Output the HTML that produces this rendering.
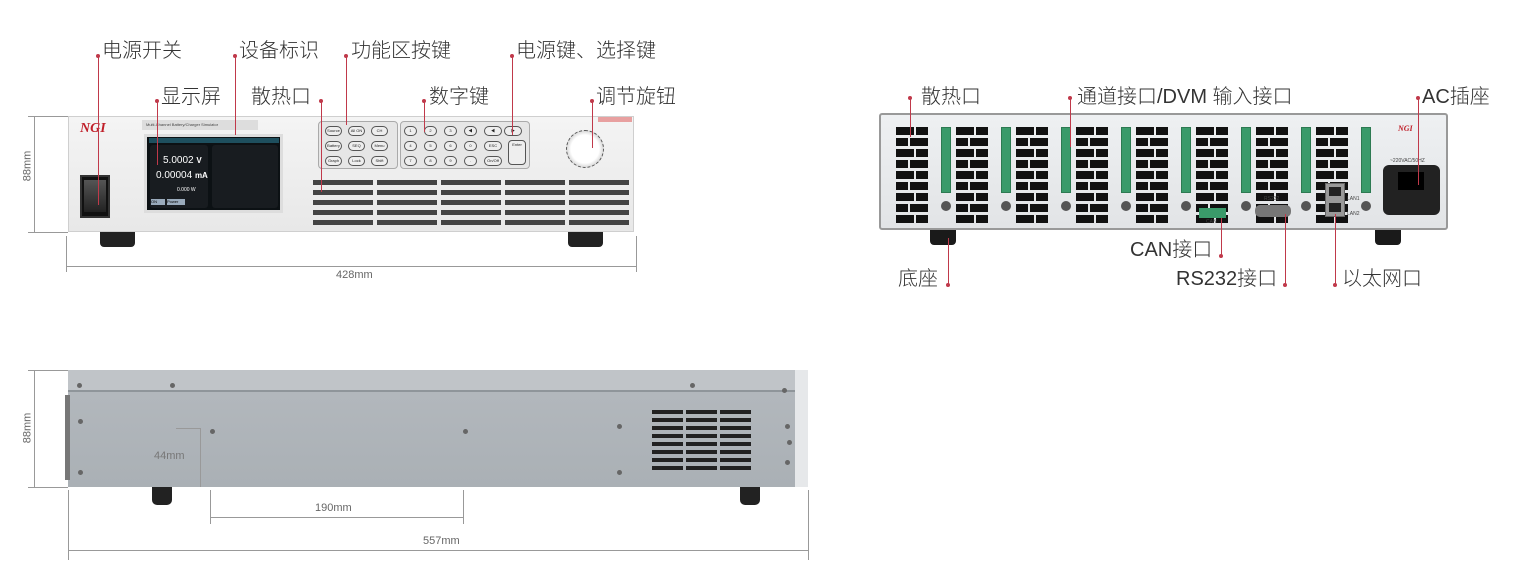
<!DOCTYPE html>
<html><head><meta charset="utf-8">
<style>
*{margin:0;padding:0;box-sizing:border-box}
body{width:1514px;height:581px;background:#fff;position:relative;overflow:hidden;font-family:"Liberation Sans","Noto Sans CJK SC",sans-serif}
.a{position:absolute}
.lbl{position:absolute;font-size:20px;color:#333;line-height:22px;white-space:nowrap;font-weight:300}
.rl{position:absolute;width:1px;background:#c0394a}
.dot{position:absolute;width:4px;height:4px;border-radius:2px;background:#c0394a}
.dim{position:absolute;background:#999}
.dt{position:absolute;font-size:11px;color:#666}
.vent{position:absolute;background:#444;height:5px}
.blk{position:absolute;background:#111}
.grn{position:absolute;background:#3a9a6a;border:1px solid #2d7a52}
.key{position:absolute;width:17px;height:10px;border:1px solid #555;border-radius:5px;background:#eee;font-size:4px;text-align:center;line-height:8px;color:#222}
.scr{position:absolute;background:#aab0b4;border-radius:50%;width:5px;height:5px}
</style></head><body>

<!-- FRONT VIEW -->
<div class="a" style="left:68px;top:116px;width:566px;height:116px;background:linear-gradient(#f4f4f4,#e8e8e8);border:1px solid #cfcfcf"></div>
<div class="a" style="left:100px;top:232px;width:35px;height:15px;background:#222;border-radius:0 0 4px 4px"></div>
<div class="a" style="left:568px;top:232px;width:35px;height:15px;background:#222;border-radius:0 0 4px 4px"></div>
<div class="a" style="left:80px;top:121px;font:italic bold 14px 'Liberation Serif';color:#c0202a">NGI</div>
<div class="a" style="left:80px;top:175px;width:30px;height:43px;background:#111;border:2px solid #333"></div>
<div class="a" style="left:84px;top:180px;width:22px;height:32px;background:linear-gradient(#555,#222)"></div>
<div class="a" style="left:142px;top:120px;width:116px;height:10px;background:#ddd;font-size:4px;color:#444;line-height:10px;padding-left:4px">Multi-Channel Battery/Charger Simulator</div>
<div class="a" style="left:144px;top:134px;width:139px;height:79px;background:#0c1114;border:3px solid #ddd"></div>
<div class="a" style="left:149px;top:138px;width:130px;height:5px;background:#1e4f5e"></div>
<div class="a" style="left:150px;top:145px;width:58px;height:63px;background:#181c20;border-radius:3px"></div>
<div class="a" style="left:212px;top:145px;width:66px;height:63px;background:#181c20;border-radius:3px"></div>
<div class="a" style="left:163px;top:155px;font-size:10px;color:#fff">5.0002 <b style="font-size:8px">V</b></div>
<div class="a" style="left:156px;top:170px;font-size:10px;color:#fff">0.00004 <b style="font-size:8px">mA</b></div>
<div class="a" style="left:177px;top:187px;font-size:5px;color:#fff">0.000 W</div>
<div class="a" style="left:151px;top:199px;width:14px;height:6px;background:#9ab;font-size:4px">ON</div>
<div class="a" style="left:167px;top:199px;width:18px;height:6px;background:#9ab;font-size:4px">Power</div>
<div class="a" style="left:318px;top:121px;width:80px;height:48px;border:1px solid #aaa;border-radius:4px;background:#e6e6e6"></div>
<div class="a" style="left:400px;top:121px;width:130px;height:48px;border:1px solid #aaa;border-radius:4px;background:#e6e6e6"></div>
<div class="a" style="left:566px;top:130px;width:38px;height:38px;border-radius:50%;background:radial-gradient(#fff 55%,#ddd 70%,#bbb);border:1px dashed #555"></div>
<div class="a" style="left:598px;top:117px;width:34px;height:5px;background:#e8a0a0"></div>
<div id="front"></div>

<!-- front dims -->
<div class="dim" style="left:34px;top:116px;width:1px;height:116px"></div>
<div class="dim" style="left:28px;top:116px;width:40px;height:1px"></div>
<div class="dim" style="left:28px;top:232px;width:40px;height:1px"></div>
<div class="dt" style="left:12px;top:160px;transform:rotate(-90deg);transform-origin:center">88mm</div>
<div class="dim" style="left:66px;top:266px;width:570px;height:1px"></div>
<div class="dim" style="left:66px;top:236px;width:1px;height:36px"></div>
<div class="dim" style="left:636px;top:236px;width:1px;height:36px"></div>
<div class="dt" style="left:336px;top:269px">428mm</div>

<!-- front labels -->
<div class="rl" style="left:98px;top:55px;height:150px"></div><div class="dot" style="left:96px;top:54px"></div><div class="lbl" style="left:102px;top:40px">电源开关</div>
<div class="rl" style="left:235px;top:55px;height:80px"></div><div class="dot" style="left:233px;top:54px"></div><div class="lbl" style="left:239px;top:40px">设备标识</div>
<div class="rl" style="left:346px;top:55px;height:70px"></div><div class="dot" style="left:344px;top:54px"></div><div class="lbl" style="left:351px;top:40px">功能区按键</div>
<div class="rl" style="left:512px;top:55px;height:80px"></div><div class="dot" style="left:510px;top:54px"></div><div class="lbl" style="left:516px;top:40px">电源键、选择键</div>
<div class="rl" style="left:157px;top:100px;height:65px"></div><div class="dot" style="left:155px;top:99px"></div><div class="lbl" style="left:161px;top:86px">显示屏</div>
<div class="rl" style="left:321px;top:100px;height:92px"></div><div class="dot" style="left:319px;top:99px"></div><div class="lbl" style="left:251px;top:86px">散热口</div>
<div class="rl" style="left:424px;top:100px;height:32px"></div><div class="dot" style="left:422px;top:99px"></div><div class="lbl" style="left:429px;top:86px">数字键</div>
<div class="rl" style="left:592px;top:100px;height:48px"></div><div class="dot" style="left:590px;top:99px"></div><div class="lbl" style="left:596px;top:86px">调节旋钮</div>

<!-- REAR VIEW -->
<div class="a" style="left:879px;top:113px;width:569px;height:117px;background:linear-gradient(#eef0f2,#e2e4e6);border:2px solid #999;border-radius:3px"></div>
<div class="a" style="left:930px;top:230px;width:26px;height:15px;background:#1a1a1a;border-radius:0 0 4px 4px"></div>
<div class="a" style="left:1375px;top:230px;width:26px;height:15px;background:#1a1a1a;border-radius:0 0 4px 4px"></div>
<div id="rear"></div>
<div class="a" style="left:1383px;top:165px;width:57px;height:50px;background:#222;border-radius:6px"></div>
<div class="a" style="left:1398px;top:172px;width:26px;height:18px;background:#000"></div>
<div class="a" style="left:1398px;top:124px;font:italic bold 8px 'Liberation Serif';color:#c0202a">NGI</div>
<div class="a" style="left:1390px;top:158px;font-size:5px;color:#444">~220VAC/50HZ</div>
<div class="a" style="left:1325px;top:183px;width:20px;height:34px;background:#999;border:1px solid #666"></div>
<div class="a" style="left:1329px;top:187px;width:12px;height:9px;background:#222"></div>
<div class="a" style="left:1329px;top:203px;width:12px;height:9px;background:#222"></div>
<div class="a" style="left:1347px;top:196px;font-size:5px;color:#444">LAN1</div>
<div class="a" style="left:1347px;top:211px;font-size:5px;color:#444">LAN2</div>
<div class="a" style="left:1255px;top:205px;width:36px;height:12px;background:#777;border-radius:5px"></div>
<div class="a" style="left:1264px;top:196px;font-size:5px;color:#444">RS232</div>
<div class="a" style="left:1199px;top:208px;width:27px;height:10px;background:#3a9a6a"></div>
<div class="a" style="left:1206px;top:219px;font-size:5px;color:#444">CAN</div>

<div class="rl" style="left:910px;top:97px;height:40px"></div><div class="dot" style="left:908px;top:96px"></div><div class="lbl" style="left:921px;top:86px">散热口</div>
<div class="rl" style="left:1070px;top:97px;height:50px"></div><div class="dot" style="left:1068px;top:96px"></div><div class="lbl" style="left:1077px;top:86px">通道接口/DVM 输入接口</div>
<div class="rl" style="left:1418px;top:97px;height:88px"></div><div class="dot" style="left:1416px;top:96px"></div><div class="lbl" style="left:1422px;top:86px">AC插座</div>
<div class="rl" style="left:948px;top:238px;height:46px"></div><div class="dot" style="left:946px;top:283px"></div><div class="lbl" style="left:898px;top:268px">底座</div>
<div class="rl" style="left:1221px;top:218px;height:37px"></div><div class="dot" style="left:1219px;top:254px"></div><div class="lbl" style="left:1130px;top:239px">CAN接口</div>
<div class="rl" style="left:1285px;top:214px;height:70px"></div><div class="dot" style="left:1283px;top:283px"></div><div class="lbl" style="left:1176px;top:268px">RS232接口</div>
<div class="rl" style="left:1335px;top:214px;height:70px"></div><div class="dot" style="left:1333px;top:283px"></div><div class="lbl" style="left:1342px;top:268px">以太网口</div>

<!-- SIDE VIEW -->
<div class="a" style="left:68px;top:370px;width:740px;height:117px;background:linear-gradient(#b4b9be,#aab0b5)"></div>
<div class="a" style="left:68px;top:370px;width:740px;height:22px;background:#c0c4c8;border-bottom:2px solid #8f959a"></div>
<div class="a" style="left:795px;top:370px;width:13px;height:117px;background:#e6e8ea"></div>
<div class="a" style="left:65px;top:395px;width:5px;height:85px;background:#777"></div>
<div class="a" style="left:152px;top:487px;width:20px;height:18px;background:#222;border-radius:0 0 5px 5px"></div>
<div class="a" style="left:740px;top:487px;width:20px;height:18px;background:#222;border-radius:0 0 5px 5px"></div>
<div id="side"></div>
<div class="dim" style="left:34px;top:370px;width:1px;height:117px"></div>
<div class="dim" style="left:28px;top:370px;width:40px;height:1px"></div>
<div class="dim" style="left:28px;top:487px;width:40px;height:1px"></div>
<div class="dt" style="left:12px;top:422px;transform:rotate(-90deg)">88mm</div>
<div class="dim" style="left:200px;top:428px;width:1px;height:59px"></div>
<div class="dim" style="left:176px;top:428px;width:24px;height:1px"></div>
<div class="dt" style="left:154px;top:450px;color:#777">44mm</div>
<div class="dim" style="left:210px;top:490px;width:1px;height:34px"></div>
<div class="dim" style="left:463px;top:490px;width:1px;height:34px"></div>
<div class="dim" style="left:210px;top:517px;width:253px;height:1px"></div>
<div class="dt" style="left:315px;top:502px">190mm</div>
<div class="dim" style="left:68px;top:490px;width:1px;height:70px"></div>
<div class="dim" style="left:808px;top:490px;width:1px;height:70px"></div>
<div class="dim" style="left:68px;top:550px;width:740px;height:1px"></div>
<div class="dt" style="left:423px;top:535px">557mm</div>

<script>
function add(id,h){document.getElementById(id).insertAdjacentHTML('beforeend',h);}
var s='';
for(var r=0;r<5;r++)for(var c=0;c<5;c++)s+='<div class="vent" style="left:'+(313+c*64)+'px;top:'+(180+r*10)+'px;width:60px"></div>';
var k1=['Source','All ON','CH','Battery','SEQ','Menu','Graph','Lock','Shift'];
for(var i=0;i<9;i++)s+='<div class="key" style="left:'+(325+(i%3)*23)+'px;top:'+(126+Math.floor(i/3)*15)+'px">'+k1[i]+'</div>';
var k2=['1','2','3','◀','◀','▶','4','5','6','0','ESC','','7','8','9','.','On/Off',''];
for(var i=0;i<18;i++){if(k2[i]==='')continue;s+='<div class="key" style="left:'+(404+(i%6)*20)+'px;top:'+(126+Math.floor(i/6)*15)+'px;width:'+(i%6>3?18:13)+'px">'+k2[i]+'</div>';}
s+='<div class="key" style="left:508px;top:140px;width:18px;height:25px;border-radius:4px">Enter</div>';
add('front',s);
s='';
for(var k=0;k<8;k++){var x=896+k*60;
 for(var r=0;r<9;r++){s+='<div class="blk" style="left:'+x+'px;top:'+(127+r*11)+'px;width:'+(r%2?12:18)+'px;height:8px"></div>';
  s+='<div class="blk" style="left:'+(x+(r%2?14:20))+'px;top:'+(127+r*11)+'px;width:'+(r%2?18:12)+'px;height:8px"></div>';}
 s+='<div class="grn" style="left:'+(x+45)+'px;top:127px;width:10px;height:66px"></div>';
 s+='<div class="a" style="left:'+(x+45)+'px;top:201px;width:10px;height:10px;border-radius:50%;background:#555"></div>';
}
add('rear',s);
s='';
for(var c=0;c<3;c++)for(var r=0;r<8;r++)s+='<div class="vent" style="left:'+(652+c*34)+'px;top:'+(410+r*8)+'px;width:31px;height:4px;background:#222"></div>';
var sc=[[77,383],[170,383],[690,383],[782,388],[78,419],[210,429],[463,429],[617,424],[78,470],[617,470],[785,424],[787,440],[785,460]];
for(var i=0;i<sc.length;i++)s+='<div class="scr" style="left:'+sc[i][0]+'px;top:'+sc[i][1]+'px;background:#666"></div>';
add('side',s);
</script>
</body></html>
